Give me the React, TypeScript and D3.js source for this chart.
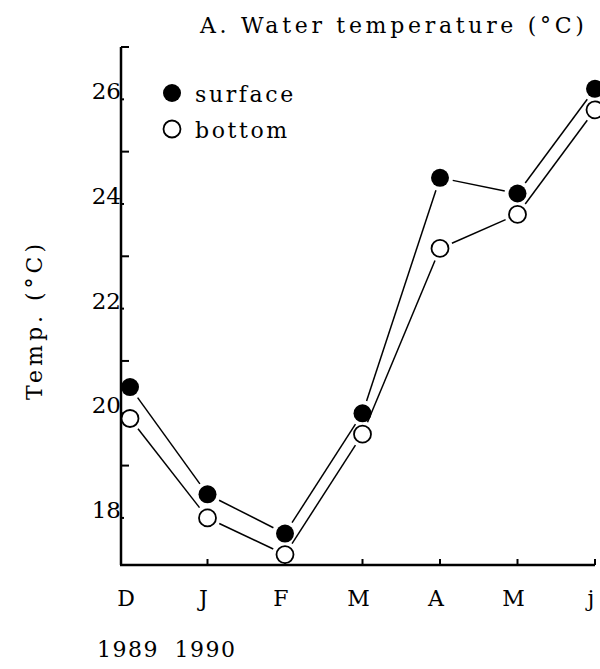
import * as React from 'react'
import * as d3 from 'd3'

// months, Dec 1989 to Jun 1990
const months = ['D', 'J', 'F', 'M', 'A', 'M', 'j']
const surface = [20.5, 18.45, 17.7, 20.0, 24.5, 24.2, 26.2]
const bottom = [19.9, 18.0, 17.3, 19.6, 23.15, 23.8, 25.8]
const yearLabels = ['1989', '1990']
const yTickValues = [18, 19, 20, 21, 22, 23, 24, 25, 26, 27]
const yLabelValues = [18, 20, 22, 24, 26]

const FONT = '"DejaVu Serif", "Liberation Serif", serif'

export default function App() {
    const AXIS_X = 121
    const AXIS_Y = 565
    const R = 9
    const GAP = 13

    const x = d3.scalePoint<number>()
        .domain(months.map((_, i) => i))
        .range([130, 595])
    const y = d3.scaleLinear().domain([17.1, 27]).range([AXIS_Y, 47])

    const segments = (vals: number[]) =>
        vals.slice(1).map((v, i) => {
            const x0 = x(i) as number, y0 = y(vals[i])
            const x1 = x(i + 1) as number, y1 = y(v)
            const len = Math.hypot(x1 - x0, y1 - y0)
            const ux = (x1 - x0) / len, uy = (y1 - y0) / len
            return <line key={i}
                x1={x0 + ux * GAP} y1={y0 + uy * GAP}
                x2={x1 - ux * GAP} y2={y1 - uy * GAP}
                stroke="#000" strokeWidth={1.5} />
        })

    return <svg width={600} height={669} viewBox="0 0 600 669"
        style={{ position: 'absolute', left: 0, top: 0, background: '#fff' }}
        fontFamily={FONT} fill="#000">
        <rect width={600} height={669} fill="#fff" />

        <text x={200} y={33} fontSize={22} letterSpacing={3.7}>A. Water temperature (°C)</text>

        <text transform={`translate(42 ${320}) rotate(-90)`} textAnchor="middle" fontSize={22} letterSpacing={4}>Temp. (°C)</text>

        {/* axes */}
        <line x1={AXIS_X} y1={y(27)} x2={AXIS_X} y2={AXIS_Y} stroke="#000" strokeWidth={2.5} />
        <line x1={AXIS_X - 1} y1={AXIS_Y} x2={x(6) as number} y2={AXIS_Y} stroke="#000" strokeWidth={2.5} />

        {yTickValues.map(v =>
            <line key={v} x1={AXIS_X} x2={AXIS_X + (v % 2 ? 8 : 3)} y1={y(v)} y2={y(v)} stroke="#000" strokeWidth={2} />
        )}
        {yLabelValues.map(v =>
            <text key={v} x={AXIS_X} y={y(v) - 6} textAnchor="end" dominantBaseline="middle" fontSize={23}>{v}</text>
        )}

        {months.map((m, i) => <g key={i}>
            {i > 0 && <line x1={x(i) as number} x2={x(i) as number} y1={AXIS_Y} y2={AXIS_Y - 6} stroke="#000" strokeWidth={2} />}
            <text x={(x(i) as number) - 4} y={606} textAnchor="middle" fontSize={22}>{m}</text>
        </g>)}
        {yearLabels.map((l, i) =>
            <text key={l} x={(x(i) as number) - 2} y={657} textAnchor="middle" fontSize={22} letterSpacing={1.5}>{l}</text>
        )}

        {/* connecting lines */}
        <g>{segments(surface)}</g>
        <g>{segments(bottom)}</g>

        {surface.map((v, i) =>
            <circle key={'s' + i} cx={x(i) as number} cy={y(v)} r={R} fill="#000" />
        )}
        {bottom.map((v, i) =>
            <circle key={'b' + i} cx={x(i) as number} cy={y(v)} r={R - 0.5} fill="#fff" stroke="#000" strokeWidth={1.8} />
        )}

        {/* legend */}
        <circle cx={172} cy={93} r={R} fill="#000" />
        <text x={195} y={102} fontSize={22} letterSpacing={2.6}>surface</text>
        <circle cx={172} cy={129} r={R - 0.5} fill="#fff" stroke="#000" strokeWidth={1.8} />
        <text x={195} y={138} fontSize={22} letterSpacing={2.6}>bottom</text>
    </svg>
}
